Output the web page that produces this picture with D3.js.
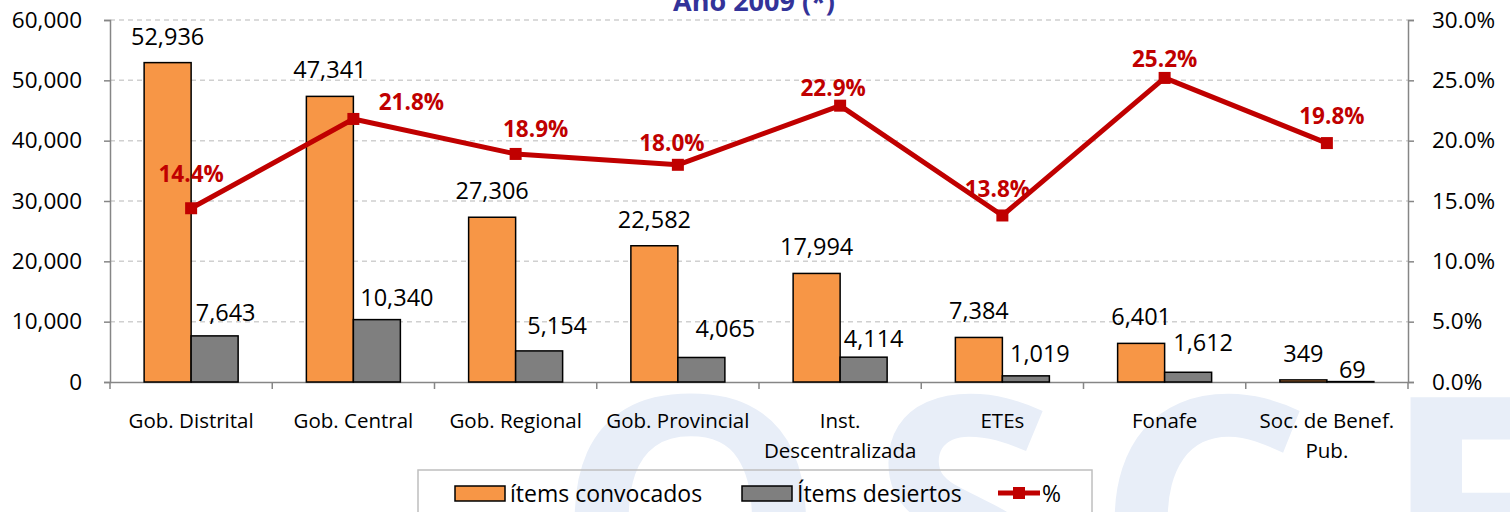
<!DOCTYPE html>
<html>
<head>
<meta charset="utf-8">
<script src="https://cdn.jsdelivr.net/npm/d3@7"></script>
<style>
  body { margin: 0; background: #fff; }
  svg { display: block; font-family: "Open Sans", sans-serif; }
</style>
</head>
<body>
<div id="chart"></div>
<script>
// data
const categories = ["Gob. Distrital", "Gob. Central", "Gob. Regional", "Gob. Provincial", "Inst. Descentralizada", "ETEs", "Fonafe", "Soc. de Benef. Pub."];
const catLines = [["Gob. Distrital"], ["Gob. Central"], ["Gob. Regional"], ["Gob. Provincial"], ["Inst.", "Descentralizada"], ["ETEs"], ["Fonafe"], ["Soc. de Benef.", "Pub."]];
const convocados = [52936, 47341, 27306, 22582, 17994, 7384, 6401, 349];
const desiertos = [7643, 10340, 5154, 4065, 4114, 1019, 1612, 69];
const pct = [14.4, 21.8, 18.9, 18.0, 22.9, 13.8, 25.2, 19.8];
const leftTicks = [0, 10000, 20000, 30000, 40000, 50000, 60000];
const rightTicks = [0, 5, 10, 15, 20, 25, 30];

// label nudges (excel moved some by hand)
const greyLabelDx = [11, 20, 18, 24, 10, 14, 15, 2];
const greyLabelDy = [24, 23, 26, 29, 19, 23, 30, 13];
const pctLabelDx = [0, 58, 20, -6, -7, -5, 0, 5];
const pctLabelDy = [35, 17, 25, 22, 18, 27, 19, 28];

var W = 1510, H = 512;
var pLeft = 110, pRight = 1408, pTop = 20, pBottom = 382;

const svg = d3.select("#chart").append("svg").attr("width", W).attr("height", H);

// watermark (logo behind the chart)
const wm = svg.append("g").attr("fill", "#e8eef8").style("font-weight", "bold").style("font-size", "340px");
[["O", 555], ["S", 870], ["C", 1095], ["E", 1380]].forEach(function(l) {
  wm.append("text").attr("x", l[1]).attr("y", 640).text(l[0]);
});

var x = d3.scaleBand().domain(categories).range([pLeft, pRight]);
var xs = d3.scaleBand().domain(["c", "d"]).range([0, 94]);
var y = d3.scaleLinear().domain([0, 60000]).range([pBottom, pTop]);
var y2 = d3.scaleLinear().domain([0, 30]).range([pBottom, pTop]);
var bx = function(i) { return x(categories[i]) + x.bandwidth() / 2 - 47; };

// gridlines
svg.append("g").selectAll("line").data(leftTicks.slice(1)).enter().append("line")
  .attr("x1", pLeft).attr("x2", pRight)
  .attr("y1", function(d) { return y(d); }).attr("y2", function(d) { return y(d); })
  .attr("stroke", "#d0d0d0").attr("stroke-width", 1.5).attr("stroke-dasharray", "5,4");

// axes
var axL = svg.append("g").attr("transform", "translate(" + pLeft + ",0)")
  .call(d3.axisLeft(y).tickValues(leftTicks).tickSize(6).tickPadding(22).tickFormat(d3.format(",")));
var axR = svg.append("g").attr("transform", "translate(" + pRight + ",0)")
  .call(d3.axisRight(y2).tickValues(rightTicks).tickSize(6).tickPadding(18).tickFormat(function(d) { return d.toFixed(1) + "%"; }));
var axB = svg.append("g").attr("transform", "translate(0," + pBottom + ")")
  .call(d3.axisBottom(x).tickSize(0).tickFormat(""));
axB.selectAll(".tick").remove();
axB.append("g").selectAll("line").data(d3.range(categories.length + 1)).enter().append("line")
  .attr("x1", function(i) { return pLeft + i * x.bandwidth(); })
  .attr("x2", function(i) { return pLeft + i * x.bandwidth(); })
  .attr("y1", 0).attr("y2", 7);
[axL, axR, axB].forEach(function(a) {
  a.selectAll("path").attr("stroke", "#868686").attr("stroke-width", 1.5);
  a.selectAll("line").attr("stroke", "#868686").attr("stroke-width", 1.5);
  a.selectAll("text").attr("fill", "#000").style("font-size", "22.5px").style("font-family", "'Open Sans', sans-serif");
});

// category labels
var cl = svg.append("g").style("font-size", "20.5px").attr("text-anchor", "middle");
catLines.forEach(function(lines, i) {
  lines.forEach(function(s, j) {
    cl.append("text").attr("x", x(categories[i]) + x.bandwidth() / 2).attr("y", 428 + j * 30).text(s);
  });
});

// bars
var bars = svg.append("g");
bars.selectAll(".conv").data(convocados).enter().append("rect").attr("class", "conv")
  .attr("x", function(d, i) { return bx(i) + xs("c"); })
  .attr("y", function(d) { return y(d); })
  .attr("width", xs.bandwidth()).attr("height", function(d) { return pBottom - y(d); })
  .attr("fill", "#f79646").attr("stroke", "#000").attr("stroke-width", 1.5);
bars.selectAll(".des").data(desiertos).enter().append("rect").attr("class", "des")
  .attr("x", function(d, i) { return bx(i) + xs("d"); })
  .attr("y", function(d) { return y(d); })
  .attr("width", xs.bandwidth()).attr("height", function(d) { return pBottom - y(d); })
  .attr("fill", "#7f7f7f").attr("stroke", "#000").attr("stroke-width", 1.5);

// bar labels
var bl = svg.append("g").style("font-size", "23.5px").attr("text-anchor", "middle").attr("dominant-baseline", "central");
bl.selectAll(".lc").data(convocados).enter().append("text")
  .attr("x", function(d, i) { return bx(i) + xs("c") + xs.bandwidth() / 2; })
  .attr("y", function(d) { return y(d) - 27; })
  .text(d3.format(","));
bl.selectAll(".ld").data(desiertos).enter().append("text")
  .attr("x", function(d, i) { return bx(i) + xs("d") + xs.bandwidth() / 2 + greyLabelDx[i]; })
  .attr("y", function(d, i) { return y(d) - greyLabelDy[i]; })
  .text(d3.format(","));

// line
var cx = function(i) { return x(categories[i]) + x.bandwidth() / 2; };
var line = d3.line().x(function(d, i) { return cx(i); }).y(function(d) { return y2(d); });
svg.append("path").datum(pct).attr("d", line)
  .attr("fill", "none").attr("stroke", "#c00000").attr("stroke-width", 5).attr("stroke-linejoin", "round");
svg.append("g").selectAll("rect").data(pct).enter().append("rect")
  .attr("x", function(d, i) { return cx(i) - 6; })
  .attr("y", function(d) { return y2(d) - 6; })
  .attr("width", 12).attr("height", 12).attr("fill", "#c00000");
svg.append("g").style("font-size", "22.5px").style("font-weight", "bold").attr("fill", "#c00000")
  .attr("text-anchor", "middle").attr("dominant-baseline", "central")
  .selectAll("text").data(pct).enter().append("text")
  .attr("x", function(d, i) { return cx(i) + pctLabelDx[i]; })
  .attr("y", function(d, i) { return y2(d) - pctLabelDy[i]; })
  .text(function(d) { return d.toFixed(1) + "%"; });

// title (cut at the top)
svg.append("text").attr("x", 754).attr("y", 11).attr("text-anchor", "middle")
  .style("font-size", "27px").style("font-weight", "bold").attr("fill", "#333399").text("Año 2009 (*)");

// legend
var lg = svg.append("g").style("font-size", "23px");
lg.append("rect").attr("x", 418).attr("y", 470).attr("width", 674).attr("height", 50)
  .attr("fill", "none").attr("stroke", "#bfbfbf").attr("stroke-width", 1.5);
lg.append("rect").attr("x", 455).attr("y", 486).attr("width", 50).attr("height", 15)
  .attr("fill", "#f79646").attr("stroke", "#000").attr("stroke-width", 1.5);
lg.append("text").attr("x", 510).attr("y", 493).attr("dominant-baseline", "central").text("ítems convocados");
lg.append("rect").attr("x", 742).attr("y", 486).attr("width", 50).attr("height", 15)
  .attr("fill", "#7f7f7f").attr("stroke", "#000").attr("stroke-width", 1.5);
lg.append("text").attr("x", 797).attr("y", 493).attr("dominant-baseline", "central").text("Ítems desiertos");
lg.append("line").attr("x1", 998).attr("x2", 1040).attr("y1", 493).attr("y2", 493).attr("stroke", "#c00000").attr("stroke-width", 5);
lg.append("rect").attr("x", 1013).attr("y", 487).attr("width", 12).attr("height", 12).attr("fill", "#c00000");
lg.append("text").attr("x", 1042).attr("y", 493).attr("dominant-baseline", "central").text("%");
</script>
</body>
</html>
